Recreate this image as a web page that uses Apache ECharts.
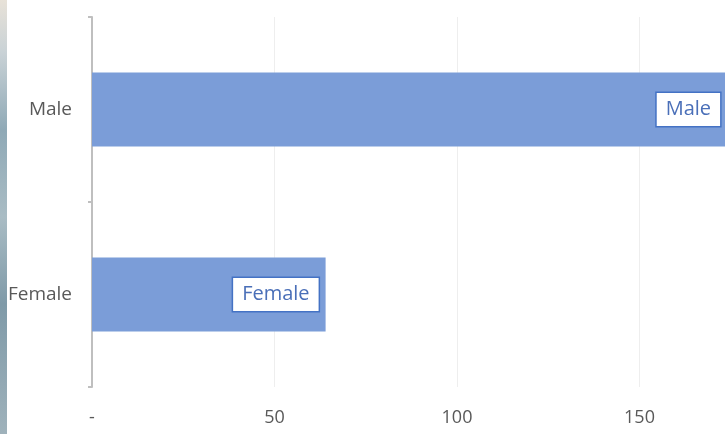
<!DOCTYPE html>
<html>
<head>
<meta charset="utf-8">
<script src="https://cdn.jsdelivr.net/npm/echarts@6/dist/echarts.min.js"></script>
<style>
  html, body { margin: 0; padding: 0; background: #fff; }
  #chart { width: 725px; height: 434px; }
  #edge {
    position: absolute; left: 0; top: 0; width: 7px; height: 434px;
    background: linear-gradient(to bottom, #e8e2d8 0%, #c9d2d6 12%, #8fa9b6 30%, #a9bcc4 50%, #7f9aa8 70%, #9fb2bb 100%);
    z-index: 2;
  }
</style>
</head>
<body>
<div id="edge"></div>
<div id="chart"></div>
<script>
var categories = ['Female', 'Male'];
var counts = [64, 174];
var xTicks = { min: 0, max: 200, interval: 50 };

var chart = echarts.init(document.getElementById('chart'), null, { renderer: 'canvas' });
chart.setOption({
  animation: false,
  backgroundColor: '#fff',
  grid: { left: 92, top: 17, width: 730, height: 370, outerBoundsMode: 'none', containLabel: false },
  xAxis: {
    type: 'value',
    min: xTicks.min,
    max: xTicks.max,
    interval: xTicks.interval,
    axisLine: { show: false },
    axisTick: { show: false },
    splitLine: {
      lineStyle: { color: '#eeeeee', width: 1 },
      showMinLine: false
    },
    axisLabel: {
      color: '#595959',
      fontSize: 18,
      fontFamily: 'Open Sans',
      margin: 22,
      formatter: function (v) { return v === 0 ? '-' : v; }
    }
  },
  yAxis: {
    type: 'category',
    data: categories,
    axisLine: { lineStyle: { color: '#bfbfbf', width: 2 } },
    axisTick: { show: true, length: 4, lineStyle: { color: '#bfbfbf', width: 2 } },
    axisLabel: { color: '#595959', fontSize: 19, fontFamily: 'Open Sans', margin: 20 }
  },
  series: [{
    type: 'bar',
    data: counts,
    barCategoryGap: '60%',
    itemStyle: { color: '#7b9dd8' },
    label: {
      show: true,
      position: 'insideRight',
      distance: 7,
      formatter: function (p) { return p.name; },
      color: '#4a6fb8',
      fontSize: 20,
      fontFamily: 'Open Sans',
      backgroundColor: '#ffffff',
      borderColor: '#4472c4',
      borderWidth: 1.5,
      padding: [7, 9, 6, 9]
    }
  }]
});
</script>
</body>
</html>
